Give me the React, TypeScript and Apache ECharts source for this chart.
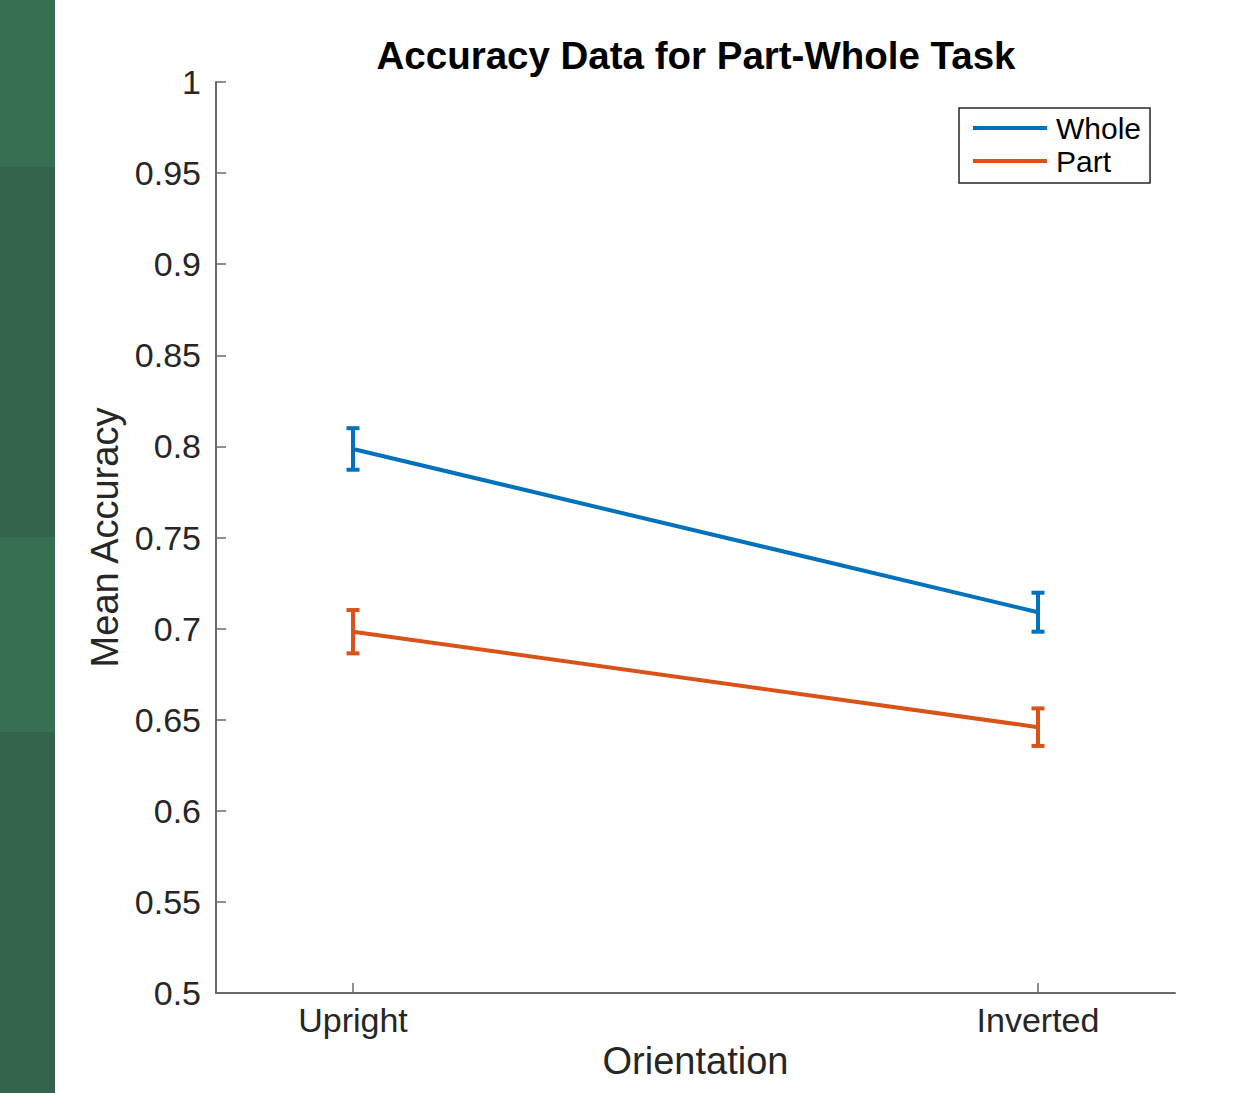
import React, { useEffect, useRef } from "react";
import * as echarts from "echarts";

const categories = ["Upright", "Inverted"];
const categoryPositions = [1, 2];
const wholeMean = [0.7986, 0.709];
const wholeErr = [0.0114, 0.0107];
const partMean = [0.6983, 0.6459];
const partErr = [0.0119, 0.0103];
const yTickMin = 0.5;
const yTickMax = 1;
const yTickStep = 0.05;

const BLUE = "#0072BD";
const ORANGE = "#D95319";
const AXIS = "#262626";
const FONT = "'Liberation Sans', Arial, Helvetica, sans-serif";

function errData(mean: number[], err: number[]) {
  return mean.map((m, i) => [categoryPositions[i], m - err[i], m + err[i]]);
}

function errSeries(name: string, color: string, mean: number[], err: number[]) {
  return {
    name,
    type: "custom",
    data: errData(mean, err),
    encode: { x: 0, y: [1, 2] },
    z: 3,
    renderItem: (_params: any, api: any) => {
      const x = api.value(0);
      const lo = api.value(1);
      const hi = api.value(2);
      const t = api.coord([x, hi]);
      const b = api.coord([x, lo]);
      const cw = 6.5;
      const style = { stroke: color, lineWidth: 4 };
      return {
        type: "group",
        children: [
          { type: "line", shape: { x1: t[0], y1: t[1], x2: b[0], y2: b[1] }, style },
          { type: "line", shape: { x1: t[0] - cw, y1: t[1], x2: t[0] + cw, y2: t[1] }, style },
          { type: "line", shape: { x1: b[0] - cw, y1: b[1], x2: b[0] + cw, y2: b[1] }, style },
        ],
      };
    },
  };
}

export default function App() {
  const ref = useRef<HTMLDivElement>(null);
  useEffect(() => {
    if (!ref.current) return;
    const chart = echarts.init(ref.current, null, { renderer: "svg" });
    chart.setOption({
      animation: false,
      backgroundColor: "#ffffff",
      grid: { left: 216, right: 73, top: 82, bottom: 100, containLabel: false },
      graphic: [
        { type: "rect", left: 0, top: 0, shape: { x: 0, y: 0, width: 55, height: 167 }, style: { fill: "#376F52" }, z: -10 },
        { type: "rect", left: 0, top: 167, shape: { x: 0, y: 0, width: 55, height: 370 }, style: { fill: "#33634A" }, z: -10 },
        { type: "rect", left: 0, top: 537, shape: { x: 0, y: 0, width: 55, height: 195 }, style: { fill: "#376F52" }, z: -10 },
        { type: "rect", left: 0, top: 732, shape: { x: 0, y: 0, width: 55, height: 361 }, style: { fill: "#33634A" }, z: -10 },
        {
          type: "text",
          x: 696,
          y: 55,
          style: {
            text: "Accuracy Data for Part-Whole Task",
            font: `bold 38.5px ${FONT}`,
            fill: "#000000",
            textAlign: "center",
            textVerticalAlign: "middle",
          },
        },
      ],
      legend: {
        data: ["Whole", "Part"],
        orient: "vertical",
        left: 959,
        top: 108,
        icon: "rect",
        itemWidth: 74,
        itemHeight: 4,
        itemGap: 3,
        padding: [5, 9, 7, 14],
        borderColor: AXIS,
        borderWidth: 1.5,
        borderRadius: 0,
        backgroundColor: "#ffffff",
        textStyle: { fontFamily: FONT, fontSize: 30, color: "#000000", padding: [0, 0, 0, 4] },
      },
      xAxis: {
        type: "value",
        min: 0.8,
        max: 2.2,
        name: "Orientation",
        nameLocation: "middle",
        nameGap: 47,
        nameTextStyle: { fontFamily: FONT, fontSize: 38, color: AXIS },
        axisLine: { show: true, lineStyle: { color: "#6a6a6a", width: 2 } },
        axisTick: { show: true, inside: true, length: 10, customValues: categoryPositions, lineStyle: { color: "#6a6a6a", width: 1.5 } },
        axisLabel: {
          customValues: categoryPositions,
          formatter: (v: number) => categories[Math.round(v) - 1] ?? "",
          fontFamily: FONT,
          fontSize: 34,
          color: AXIS,
          margin: 10,
        },
        splitLine: { show: false },
      },
      yAxis: {
        type: "value",
        min: yTickMin,
        max: yTickMax,
        interval: yTickStep,
        name: "Mean Accuracy",
        nameLocation: "middle",
        nameGap: 92,
        nameTextStyle: { fontFamily: FONT, fontSize: 38, color: AXIS },
        axisLine: { show: true, lineStyle: { color: "#6a6a6a", width: 2 } },
        axisTick: { show: true, inside: true, length: 10, lineStyle: { color: "#6a6a6a", width: 1.5 } },
        axisLabel: { fontFamily: FONT, fontSize: 34, color: AXIS, margin: 15, showMinLabel: true, showMaxLabel: true },
        splitLine: { show: false },
      },
      series: [
        {
          name: "Whole",
          type: "line",
          data: wholeMean.map((m, i) => [categoryPositions[i], m]),
          symbol: "none",
          lineStyle: { color: BLUE, width: 4 },
          itemStyle: { color: BLUE },
          z: 2,
        },
        {
          name: "Part",
          type: "line",
          data: partMean.map((m, i) => [categoryPositions[i], m]),
          symbol: "none",
          lineStyle: { color: ORANGE, width: 4 },
          itemStyle: { color: ORANGE },
          z: 2,
        },
        errSeries("Whole SE", BLUE, wholeMean, wholeErr),
        errSeries("Part SE", ORANGE, partMean, partErr),
      ],
    });
    return () => chart.dispose();
  }, []);
  return (
    <div
      ref={ref}
      style={{ position: "fixed", left: 0, top: 0, width: 1248, height: 1093, background: "#ffffff" }}
    />
  );
}
